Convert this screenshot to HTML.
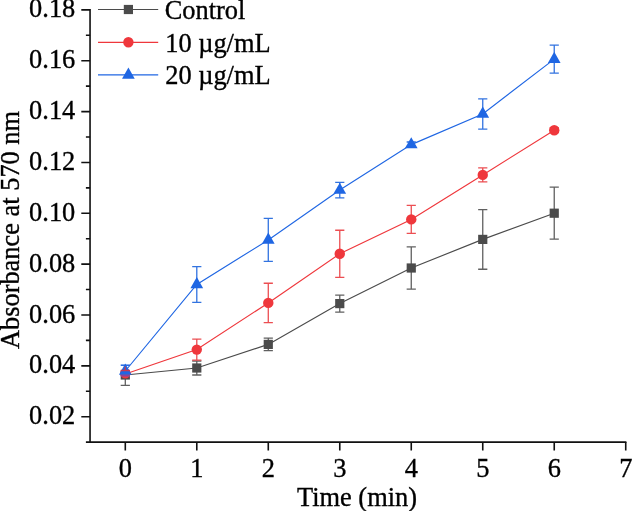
<!DOCTYPE html>
<html><head><meta charset="utf-8"><style>
html,body{margin:0;padding:0;background:#fff;width:634px;height:511px;overflow:hidden}
svg{will-change:transform;display:block;font-family:"Liberation Serif",serif}
</style></head><body>
<svg width="634" height="511" viewBox="0 0 634 511">
<rect width="634" height="511" fill="#fff"/>
<path d="M90.05 9.1V442.1M85.9 442.1H626.4" stroke="#111" stroke-width="1.6" fill="none"/>
<path d="M81.3 416.70H90.05M81.3 365.85H90.05M81.3 315.00H90.05M81.3 264.15H90.05M81.3 213.30H90.05M81.3 162.45H90.05M81.3 111.60H90.05M81.3 60.75H90.05M81.3 9.90H90.05M85.9 391.27H90.05M85.9 340.42H90.05M85.9 289.57H90.05M85.9 238.72H90.05M85.9 187.88H90.05M85.9 137.02H90.05M85.9 86.17H90.05M85.9 35.32H90.05M125.30 442.1V450.4M196.79 442.1V450.4M268.28 442.1V450.4M339.77 442.1V450.4M411.26 442.1V450.4M482.75 442.1V450.4M554.24 442.1V450.4M625.73 442.1V450.4" stroke="#111" stroke-width="1.6" fill="none"/>
<g font-size="26.4" fill="#000" stroke="#000" stroke-width="0.35"><text x="75.3" y="424.25" text-anchor="end">0.02</text>
<text x="75.3" y="373.40" text-anchor="end">0.04</text>
<text x="75.3" y="322.55" text-anchor="end">0.06</text>
<text x="75.3" y="271.70" text-anchor="end">0.08</text>
<text x="75.3" y="220.85" text-anchor="end">0.10</text>
<text x="75.3" y="170.00" text-anchor="end">0.12</text>
<text x="75.3" y="119.15" text-anchor="end">0.14</text>
<text x="75.3" y="68.30" text-anchor="end">0.16</text>
<text x="75.3" y="17.45" text-anchor="end">0.18</text>
<text x="125.30" y="477.3" text-anchor="middle">0</text>
<text x="196.79" y="477.3" text-anchor="middle">1</text>
<text x="268.28" y="477.3" text-anchor="middle">2</text>
<text x="339.77" y="477.3" text-anchor="middle">3</text>
<text x="411.26" y="477.3" text-anchor="middle">4</text>
<text x="482.75" y="477.3" text-anchor="middle">5</text>
<text x="554.24" y="477.3" text-anchor="middle">6</text>
<text x="625.73" y="477.3" text-anchor="middle">7</text>
<text x="357" y="505.6" text-anchor="middle">Time (min)</text>
<text transform="translate(18.6 230) rotate(-90)" text-anchor="middle">Absorbance at 570 nm</text>
</g>
<polyline points="125.30,375.00 196.79,368.00 268.28,344.40 339.77,303.60 411.26,268.00 482.75,239.40 554.24,213.20" stroke="#4b4b4b" stroke-width="1.15" fill="none"/>
<polyline points="125.30,374.00 196.79,349.60 268.28,302.90 339.77,253.80 411.26,219.40 482.75,174.90 554.24,130.20" stroke="#ef373c" stroke-width="1.15" fill="none"/>
<polyline points="125.30,371.00 196.79,284.50 268.28,239.90 339.77,190.10 411.26,144.60 482.75,113.95 554.24,59.15" stroke="#1f66e3" stroke-width="1.15" fill="none"/>
<path d="M196.79 361.00V375.00M192.19 361.00H201.39M192.19 375.00H201.39" stroke="#606060" stroke-width="1.3" fill="none"/>
<path d="M268.28 338.20V350.60M263.68 338.20H272.88M263.68 350.60H272.88" stroke="#606060" stroke-width="1.3" fill="none"/>
<path d="M339.77 295.10V312.10M335.17 295.10H344.37M335.17 312.10H344.37" stroke="#606060" stroke-width="1.3" fill="none"/>
<path d="M411.26 246.80V289.20M406.66 246.80H415.86M406.66 289.20H415.86" stroke="#606060" stroke-width="1.3" fill="none"/>
<path d="M482.75 209.55V269.25M478.15 209.55H487.35M478.15 269.25H487.35" stroke="#606060" stroke-width="1.3" fill="none"/>
<path d="M554.24 187.20V239.20M549.64 187.20H558.84M549.64 239.20H558.84" stroke="#606060" stroke-width="1.3" fill="none"/>
<rect x="192.19" y="363.40" width="9.2" height="9.2" fill="#4b4b4b"/>
<rect x="263.68" y="339.80" width="9.2" height="9.2" fill="#4b4b4b"/>
<rect x="335.17" y="299.00" width="9.2" height="9.2" fill="#4b4b4b"/>
<rect x="406.66" y="263.40" width="9.2" height="9.2" fill="#4b4b4b"/>
<rect x="478.15" y="234.80" width="9.2" height="9.2" fill="#4b4b4b"/>
<rect x="549.64" y="208.60" width="9.2" height="9.2" fill="#4b4b4b"/>
<path d="M196.79 339.10V360.10M192.19 339.10H201.39M192.19 360.10H201.39" stroke="#ec4e52" stroke-width="1.3" fill="none"/>
<path d="M268.28 283.25V322.55M263.68 283.25H272.88M263.68 322.55H272.88" stroke="#ec4e52" stroke-width="1.3" fill="none"/>
<path d="M339.77 230.25V277.35M335.17 230.25H344.37M335.17 277.35H344.37" stroke="#ec4e52" stroke-width="1.3" fill="none"/>
<path d="M411.26 205.40V233.40M406.66 205.40H415.86M406.66 233.40H415.86" stroke="#ec4e52" stroke-width="1.3" fill="none"/>
<path d="M482.75 167.85V181.95M478.15 167.85H487.35M478.15 181.95H487.35" stroke="#ec4e52" stroke-width="1.3" fill="none"/>
<path d="M554.24 127.70V132.70M549.64 127.70H558.84M549.64 132.70H558.84" stroke="#ec4e52" stroke-width="1.3" fill="none"/>
<circle cx="196.79" cy="349.60" r="5.2" fill="#ef373c"/>
<circle cx="268.28" cy="302.90" r="5.2" fill="#ef373c"/>
<circle cx="339.77" cy="253.80" r="5.2" fill="#ef373c"/>
<circle cx="411.26" cy="219.40" r="5.2" fill="#ef373c"/>
<circle cx="482.75" cy="174.90" r="5.2" fill="#ef373c"/>
<circle cx="554.24" cy="130.20" r="5.2" fill="#ef373c"/>
<path d="M196.79 266.65V302.35M192.19 266.65H201.39M192.19 302.35H201.39" stroke="#3273e0" stroke-width="1.3" fill="none"/>
<path d="M268.28 218.40V261.40M263.68 218.40H272.88M263.68 261.40H272.88" stroke="#3273e0" stroke-width="1.3" fill="none"/>
<path d="M339.77 182.35V197.85M335.17 182.35H344.37M335.17 197.85H344.37" stroke="#3273e0" stroke-width="1.3" fill="none"/>
<path d="M411.26 142.00V147.20M406.66 142.00H415.86M406.66 147.20H415.86" stroke="#3273e0" stroke-width="1.3" fill="none"/>
<path d="M482.75 98.80V129.10M478.15 98.80H487.35M478.15 129.10H487.35" stroke="#3273e0" stroke-width="1.3" fill="none"/>
<path d="M554.24 45.10V73.20M549.64 45.10H558.84M549.64 73.20H558.84" stroke="#3273e0" stroke-width="1.3" fill="none"/>
<path d="M196.79 277.03L203.14 288.23H190.44Z" fill="#1f66e3"/>
<path d="M268.28 232.43L274.63 243.63H261.93Z" fill="#1f66e3"/>
<path d="M339.77 182.63L346.12 193.83H333.42Z" fill="#1f66e3"/>
<path d="M411.26 137.13L417.61 148.33H404.91Z" fill="#1f66e3"/>
<path d="M482.75 106.48L489.10 117.68H476.40Z" fill="#1f66e3"/>
<path d="M554.24 51.68L560.59 62.88H547.89Z" fill="#1f66e3"/>
<path d="M125.30 378V385.4M120.70 385.4H129.90" stroke="#606060" stroke-width="1.3" fill="none"/>
<rect x="120.70" y="370.40" width="9.2" height="9.2" fill="#4b4b4b"/>
<circle cx="125.30" cy="373.40" r="5.2" fill="#ef373c"/>
<path d="M125.30 363.53L131.65 374.73H118.95Z" fill="#1f66e3"/>
<path d="M125.30 366.5V371M120.70 370.5H129.90" stroke="#c8384f" stroke-width="1.3" fill="none"/>
<path d="M120.70 375.8H129.90" stroke="#7a48a8" stroke-width="1.4" fill="none"/>
<path d="M120.70 365.2H129.90" stroke="#1f66e3" stroke-width="1.5" fill="none"/>
<path d="M98 9.5H158.2" stroke="#4b4b4b" stroke-width="1.2"/>
<rect x="123.80" y="4.90" width="9.2" height="9.2" fill="#4b4b4b"/>
<text x="164.7" y="19.2" font-size="26.4" stroke="#000" stroke-width="0.35">Control</text>
<path d="M98 42.3H158.2" stroke="#ef373c" stroke-width="1.2"/>
<circle cx="128.40" cy="42.30" r="5.2" fill="#ef373c"/>
<text x="165.2" y="51.7" font-size="26.4" stroke="#000" stroke-width="0.35">10 µg/mL</text>
<path d="M98 74.9H158.2" stroke="#1f66e3" stroke-width="1.2"/>
<path d="M128.40 67.43L134.75 78.63H122.05Z" fill="#1f66e3"/>
<text x="165.2" y="84.4" font-size="26.4" stroke="#000" stroke-width="0.35">20 µg/mL</text>
</svg>
</body></html>
